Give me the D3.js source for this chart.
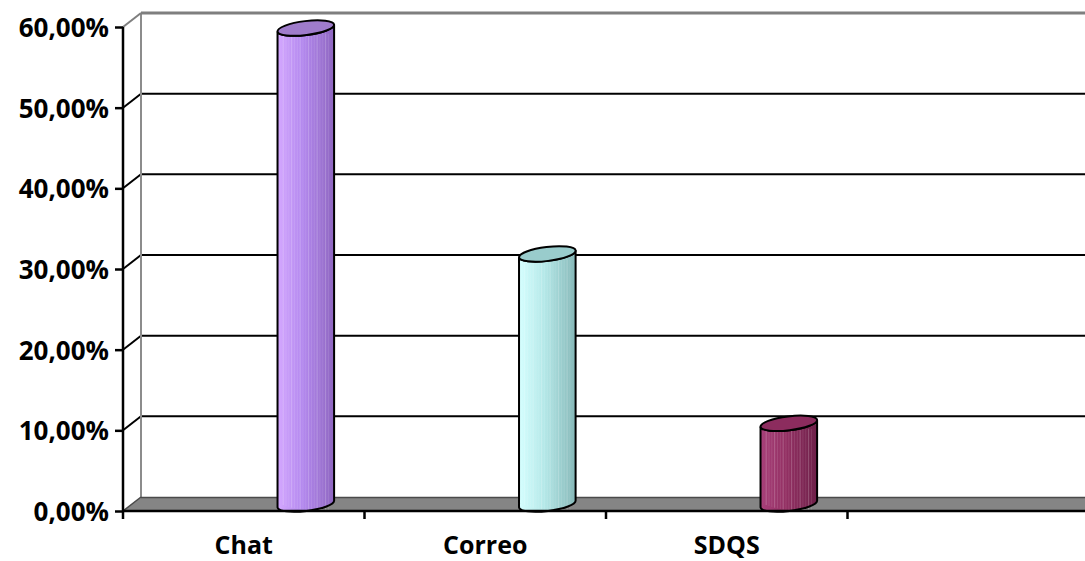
<!DOCTYPE html>
<html>
<head>
<meta charset="utf-8">
<script src="https://cdn.jsdelivr.net/npm/d3@7"></script>
<style>
  html, body { margin: 0; padding: 0; background: #fff; }
  svg { display: block; }
  text { font-family: "Open Sans", "Liberation Sans", sans-serif; font-weight: 700; fill: #000; }
</style>
</head>
<body>
<svg id="chart" width="1085" height="561"></svg>
<script>
// Categories (the fourth slot is an empty category on the axis)
const categories = ["Chat", "Correo", "SDQS", ""];
const shares = [0.59, 0.31, 0.10];
const yTicks = [0, 0.1, 0.2, 0.3, 0.4, 0.5, 0.6];
const tickLabels = ["0,00%", "10,00%", "20,00%", "30,00%", "40,00%", "50,00%", "60,00%"];
const barColors = [
  { light: "#D4A8FF", mid: "#B388EE", dark: "#8E66C0", top: "#9F7CCB" },
  { light: "#D6FFFF", mid: "#B4E8E8", dark: "#86B8B8", top: "#99CCCC" },
  { light: "#A8407A", mid: "#933063", dark: "#6E2049", top: "#8C2C5E" }
];

const W = 1085, H = 561;
const svg = d3.select("#chart");

// Front plane and depth offset of the 3D box
const depthX = 18, depthY = -14;
const x = d3.scaleBand().domain(categories).range([123, 1089]).paddingInner(0).paddingOuter(0);
const y = d3.scaleLinear().domain([0, 0.6]).range([511, 27]);

const backX0 = x.range()[0] + depthX;
const rightEdge = W + 2;

// Gridlines on the back wall
svg.append("g").selectAll("line.grid")
  .data(yTicks.filter(d => d > 0 && d < 0.6))
  .join("line")
  .attr("x1", backX0).attr("x2", rightEdge)
  .attr("y1", d => y(d) + depthY).attr("y2", d => y(d) + depthY)
  .attr("stroke", "#000").attr("stroke-width", 2);

// Side-wall lines from the front axis to the back wall
svg.append("g").selectAll("line.side")
  .data(yTicks.filter(d => d > 0 && d < 0.6))
  .join("line")
  .attr("x1", x.range()[0]).attr("y1", d => y(d))
  .attr("x2", backX0).attr("y2", d => y(d) + depthY)
  .attr("stroke", "#000").attr("stroke-width", 2);

// Back wall frame (gray)
const yTop = y(0.6);
svg.append("line").attr("x1", backX0).attr("x2", backX0)
  .attr("y1", yTop + depthY).attr("y2", y(0) + depthY)
  .attr("stroke", "#8c8c8c").attr("stroke-width", 2);
svg.append("line").attr("x1", backX0).attr("x2", rightEdge)
  .attr("y1", yTop + depthY).attr("y2", yTop + depthY)
  .attr("stroke", "#7f7f7f").attr("stroke-width", 3);
svg.append("line").attr("x1", x.range()[0]).attr("y1", yTop)
  .attr("x2", backX0).attr("y2", yTop + depthY)
  .attr("stroke", "#7f7f7f").attr("stroke-width", 2);

// Floor
const y0 = y(0);
svg.append("path")
  .attr("d", `M${x.range()[0]},${y0} L${backX0},${y0 + depthY} L${rightEdge},${y0 + depthY} L${rightEdge},${y0} Z`)
  .attr("fill", "#858585");
svg.append("line").attr("x1", backX0).attr("x2", rightEdge)
  .attr("y1", y0 + depthY + 0.5).attr("y2", y0 + depthY + 0.5)
  .attr("stroke", "#4a4a4a").attr("stroke-width", 1.5);
svg.append("line").attr("x1", x.range()[0]).attr("y1", y0)
  .attr("x2", backX0).attr("y2", y0 + depthY)
  .attr("stroke", "#4a4a4a").attr("stroke-width", 1.5);

// Cylinders
const defs = svg.append("defs");
const rx = 28.5, ry = 7, tilt = -7;
const barShift = 0.757; // bar centre as a fraction of the category band
const midY = depthY / 2;

barColors.forEach((c, i) => {
  const g = defs.append("linearGradient").attr("id", "body" + i)
    .attr("x1", "0%").attr("x2", "100%").attr("y1", "0%").attr("y2", "0%");
  g.append("stop").attr("offset", "0%").attr("stop-color", c.light);
  g.append("stop").attr("offset", "45%").attr("stop-color", c.mid);
  g.append("stop").attr("offset", "100%").attr("stop-color", c.dark);
});

const bars = svg.append("g").selectAll("g.bar")
  .data(shares.map((v, i) => ({ cat: categories[i], v, i })))
  .join("g").attr("class", "bar");

bars.each(function(d) {
  const g = d3.select(this);
  const cx = x(d.cat) + x.bandwidth() * barShift;
  const yb = y(0) + midY;
  const yt = y(d.v) + midY;
  const a = tilt * Math.PI / 180;
  const dxr = rx * Math.cos(a), dyr = rx * Math.sin(a);
  // body: left side down, bottom half-ellipse, right side up, closing along top ellipse
  const body = `M${cx - dxr},${yt - dyr} L${cx - dxr},${yb - dyr}` +
    ` A${rx},${ry} ${tilt} 0 0 ${cx + dxr},${yb + dyr}` +
    ` L${cx + dxr},${yt + dyr}` +
    ` A${rx},${ry} ${tilt} 0 1 ${cx - dxr},${yt - dyr} Z`;
  g.append("path").attr("d", body).attr("fill", `url(#body${d.i})`);
  // fine vertical streaks on the body
  const streaks = d3.range(-0.8, 0.85, 0.1);
  g.append("g").selectAll("line")
    .data(streaks)
    .join("line")
    .attr("x1", s => cx + s * dxr).attr("x2", s => cx + s * dxr)
    .attr("y1", s => yt - s * dyr + 3).attr("y2", s => yb - s * dyr + ry * Math.sqrt(1 - s * s) * 0.9)
    .attr("stroke", "#ffffff").attr("stroke-opacity", (s, k) => (k % 3 === 0 ? 0.22 : 0.1))
    .attr("stroke-width", 1);
  g.append("path").attr("d", body).attr("fill", "none")
    .attr("stroke", "#000").attr("stroke-width", 2);
  g.append("ellipse")
    .attr("cx", cx).attr("cy", yt).attr("rx", rx).attr("ry", ry)
    .attr("transform", `rotate(${tilt},${cx},${yt})`)
    .attr("fill", barColors[d.i].top)
    .attr("stroke", "#000").attr("stroke-width", 2);
});

// Front value axis
svg.append("line").attr("x1", x.range()[0]).attr("x2", x.range()[0])
  .attr("y1", y(0.6)).attr("y2", y(0))
  .attr("stroke", "#000").attr("stroke-width", 2.5);
const yAxis = d3.axisLeft(y).tickValues(yTicks).tickSize(8)
  .tickFormat((d, i) => tickLabels[i]);
const ya = svg.append("g").attr("transform", `translate(${x.range()[0]},0)`).call(yAxis);
ya.select(".domain").remove();
ya.selectAll(".tick line").attr("stroke", "#000").attr("stroke-width", 2.5);
ya.selectAll(".tick text")
  .attr("x", -14).attr("dy", "0.36em")
  .style("font-family", "'Open Sans', sans-serif").style("font-weight", 700)
  .style("font-size", "26px").attr("fill", "#000");

// Category axis along the front edge of the floor
svg.append("line").attr("x1", x.range()[0]).attr("x2", rightEdge)
  .attr("y1", y0).attr("y2", y0).attr("stroke", "#000").attr("stroke-width", 2.5);
const tickXs = categories.map(c => x(c)).concat([x.range()[1]]);
svg.append("g").selectAll("line.xt")
  .data(tickXs)
  .join("line")
  .attr("x1", d => d).attr("x2", d => d)
  .attr("y1", y0).attr("y2", y0 + 8)
  .attr("stroke", "#000").attr("stroke-width", 2.5);
svg.append("g").selectAll("text.xl")
  .data(categories)
  .join("text")
  .attr("x", d => x(d) + x.bandwidth() / 2)
  .attr("y", 554)
  .attr("text-anchor", "middle")
  .style("font-size", "25px")
  .text(d => d);
</script>
</body>
</html>
